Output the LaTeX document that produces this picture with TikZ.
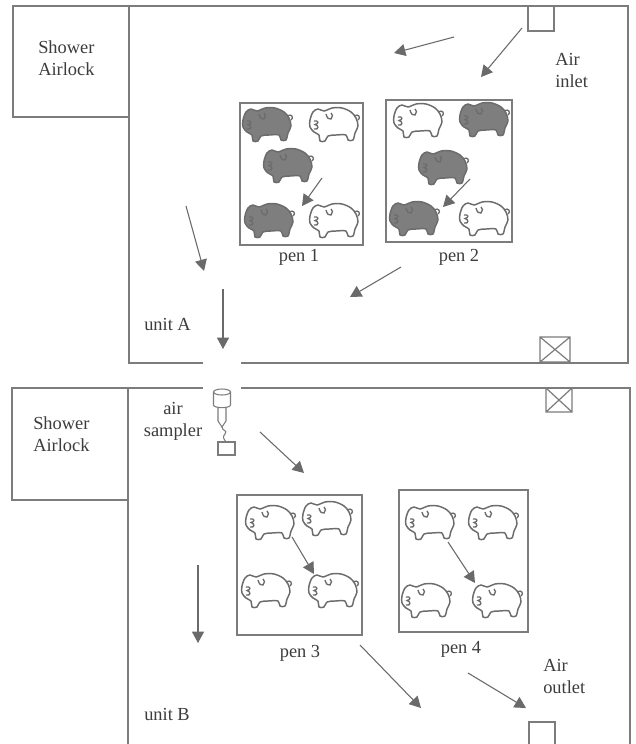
\documentclass[tikz,border=0pt]{standalone}
\usepackage{fontspec}
\setmainfont{Liberation Serif}
\usetikzlibrary{arrows.meta}
\definecolor{wallc}{HTML}{7C7C7C}
\definecolor{flowc}{HTML}{6A6A6A}
\definecolor{inkc}{HTML}{3C3C3C}
\definecolor{pigdark}{HTML}{7E7E7E}
\definecolor{pigedge}{HTML}{6C6C6C}
\begin{document}
\begin{tikzpicture}[x=0.75pt,y=-0.75pt,
  wall/.style={draw=wallc,line width=0.9pt},
  penbox/.style={draw=wallc,line width=0.9pt,inner sep=0pt},
  lbl/.style={text=inkc,font=\fontsize{13.8}{16.5}\selectfont,inner sep=0pt},
  flow/.style={draw=flowc,line width=0.8pt,-{Triangle[length=8.5pt,width=9pt]}},
  fanbox/.style={draw=wallc,line width=0.9pt},
  pics/pig/.style={code={
    \draw[pigedge,line width=1.1pt,fill=#1,line join=round]
      plot[smooth cycle,tension=0.55] coordinates {(-21,-12) (-16,-15) (-10,-13)
        (-2,-16) (8,-16) (17,-12) (22,-6) (24,2) (21,9) (19,16) (14,16) (12,11)
        (2,11) (-6,12) (-9,17) (-14,17) (-15,11) (-20,8) (-24,3) (-24,-4)};
    \draw[pigedge,line width=1pt] (20,-8) .. controls (25,-11) and (27,-6) .. (24,-4);
    \draw[pigedge,line width=1pt] (-8,-10) .. controls (-7,-6) and (-5,-4) .. (-3,-5)
      .. controls (-1,-7) and (-1,-10) .. (-3,-11);
    \draw[pigedge,line width=1pt] (-20,-3) .. controls (-15,-4) and (-15,0) .. (-19,0.5)
      .. controls (-15,1.5) and (-15,6) .. (-20,5);
  }}]
\useasboundingbox (0,0) rectangle (636,744);
\fill[white] (0,0) rectangle (636,744);

% ---- walls of unit A and its airlock
\draw[wall] (13,6) rectangle (129,117);
\draw[wall] (203,363) -- (129,363) -- (129,6) -- (628,6) -- (628,363) -- (241,363);
% ---- walls of unit B and its airlock
\draw[wall] (12,388) rectangle (128,500);
\draw[wall] (128,744) -- (128,388) -- (203,388);
\draw[wall] (241,388) -- (630,388) -- (630,744);

% ---- air inlet, fans and air outlet
\node[fanbox,inner sep=0pt,minimum width=19.5pt,minimum height=18.75pt] (inlet) at (541,18.5) {};
\draw[fanbox] (540,337) rectangle (570,362) (540,337) -- (570,362) (540,362) -- (570,337);
\draw[fanbox] (546,388) rectangle (572,412) (546,388) -- (572,412) (546,412) -- (572,388);
\draw[wall] (529,744) -- (529,722) -- (555,722) -- (555,744);

% ---- text
\node[lbl,align=left,anchor=west] (sa1) at (38,58) {Shower\\Airlock};
\node[lbl,align=left,anchor=west] (sa2) at (33,434) {Shower\\Airlock};
\node[lbl,align=left,anchor=west] (ain) at (555,70) {Air\\inlet};
\node[lbl,align=left,anchor=west] (aout) at (543,676) {Air\\outlet};
\node[lbl,align=center] (samp) at (173,421) {air\\sampler};
\node[lbl,anchor=base west] (ua) at (144,330) {unit A};
\node[lbl,anchor=base west] (ub) at (144,720) {unit B};

% ---- pens
\node[penbox,minimum width=92.25pt,minimum height=106.5pt] (pen1) at (301.5,174) {};
\node[penbox,minimum width=94.5pt,minimum height=106.5pt] (pen2) at (449,171) {};
\node[penbox,minimum width=93.75pt,minimum height=105pt] (pen3) at (299.5,565) {};
\node[penbox,minimum width=96.75pt,minimum height=106.5pt] (pen4) at (463.5,561) {};
\node[lbl,anchor=base] (l1) at (299,261) {pen 1};
\node[lbl,anchor=base] (l2) at (459,261) {pen 2};
\node[lbl,anchor=base] (l3) at (300,657) {pen 3};
\node[lbl,anchor=base] (l4) at (461,653) {pen 4};

% ---- pigs
\pic at (267,124) {pig=pigdark};
\pic at (334,124) {pig=white};
\pic at (288,165) {pig=pigdark};
\pic at (269,220) {pig=pigdark};
\pic at (334,220) {pig=white};

\pic at (418,120) {pig=white};
\pic at (484,119) {pig=pigdark};
\pic at (443,167) {pig=pigdark};
\pic at (414,218) {pig=pigdark};
\pic at (484,218) {pig=white};

\pic at (270,522) {pig=white};
\pic at (327,518) {pig=white};
\pic at (266,590) {pig=white};
\pic at (333,590) {pig=white};

\pic at (430,522) {pig=white};
\pic at (493,522) {pig=white};
\pic at (426,600) {pig=white};
\pic at (497,600) {pig=white};

% ---- air sampler
\draw[wallc,line width=0.8pt] (222,392) ellipse [x radius=8.5,y radius=3];
\draw[wallc,line width=0.8pt] (213.5,392) -- (213.5,405) .. controls (213.5,408.5) and (230.5,408.5) .. (230.5,405) -- (230.5,392);
\draw[wallc,line width=0.8pt] (218,407.5) -- (218,421) -- (222,427) -- (226,421) -- (226,407.5);
\draw[wallc,line width=0.8pt] (222,427) .. controls (222,431) and (228,430) .. (225,434)
  .. controls (222,437) and (224,439) .. (226,442);
\node[fanbox,inner sep=0pt,minimum width=12.75pt,minimum height=9.75pt] (sbox) at (226.5,448.5) {};

% ---- air flow
\coordinate (f1s) at (454,37);  \coordinate (f1e) at (394,53);
\coordinate (f2s) at (522,28);  \coordinate (f2e) at (481,77);
\coordinate (f3s) at (322,178); \coordinate (f3e) at (302,206);
\coordinate (f4s) at (470,179); \coordinate (f4e) at (443,207);
\coordinate (f5s) at (186,206); \coordinate (f5e) at (204,271);
\coordinate (f6s) at (401,267); \coordinate (f6e) at (350,297);
\coordinate (f7s) at (223,289); \coordinate (f7e) at (223,349);
\coordinate (f8s) at (260,432); \coordinate (f8e) at (304,473);
\coordinate (f9s) at (292,537); \coordinate (f9e) at (314,574);
\coordinate (f10s) at (448,542); \coordinate (f10e) at (475,583);
\coordinate (f11s) at (198,565); \coordinate (f11e) at (198,643);
\coordinate (f12s) at (360,645); \coordinate (f12e) at (421,708);
\coordinate (f13s) at (468,673); \coordinate (f13e) at (526,708);
\foreach \k in {1,...,13} \draw[flow] (f\k s) -- (f\k e);
\end{tikzpicture}
\end{document}
